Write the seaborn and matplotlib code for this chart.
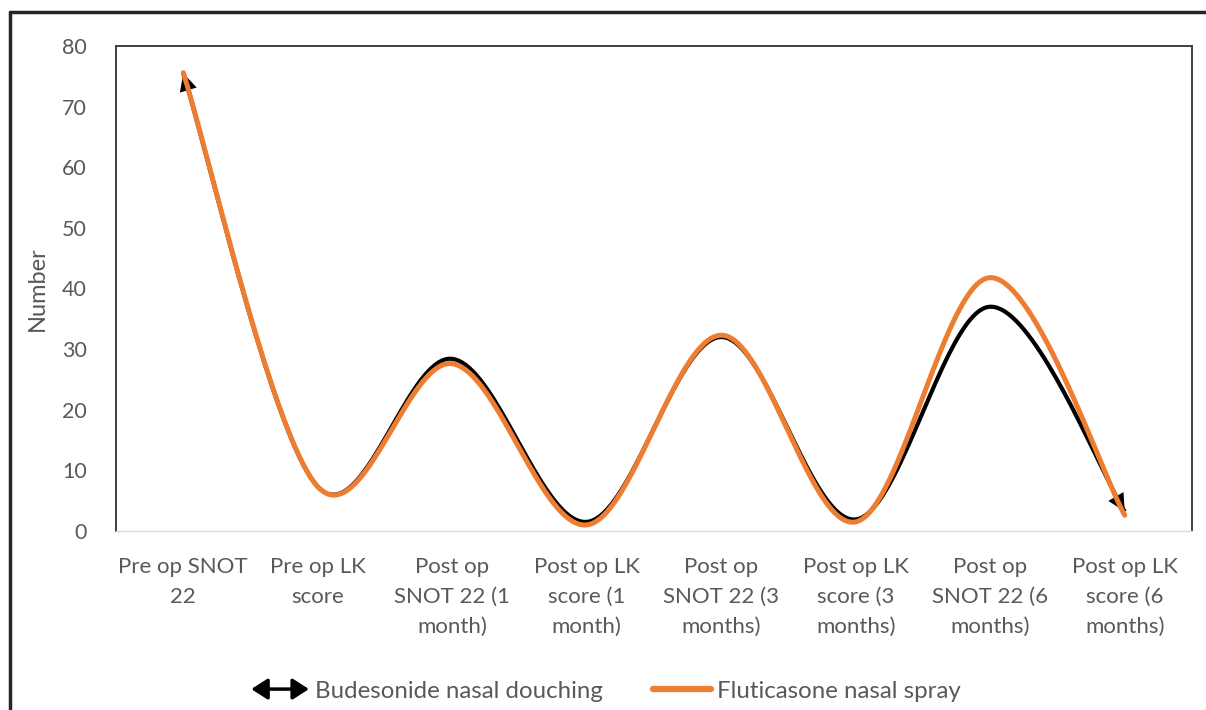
import numpy as np
import pandas as pd
import matplotlib
matplotlib.use("Agg")
import matplotlib.pyplot as plt
from matplotlib.lines import Line2D
from matplotlib.patches import FancyArrowPatch
from matplotlib.legend_handler import HandlerBase
import seaborn as sns

# ---- data -------------------------------------------------------------
categories = [
    "Pre op SNOT\n22",
    "Pre op LK\nscore",
    "Post op\nSNOT 22 (1\nmonth)",
    "Post op LK\nscore (1\nmonth)",
    "Post op\nSNOT 22 (3\nmonths)",
    "Post op LK\nscore (3\nmonths)",
    "Post op\nSNOT 22 (6\nmonths)",
    "Post op LK\nscore (6\nmonths)",
]
budesonide = [75.5, 7.3, 28.4, 1.5, 32.0, 1.9, 37.0, 3.2]
fluticasone = [75.6, 7.3, 27.6, 1.0, 32.3, 1.5, 41.8, 2.6]
series_names = ["Budesonide nasal douching", "Fluticasone nasal spray"]
yticks = [0, 10, 20, 30, 40, 50, 60, 70, 80]

TEXT = "#595959"
ORANGE = "#ED7D31"


def smooth_curve(values, steps=40):
    """Bezier smoothing of a category series (spreadsheet-style smoothed line)."""
    x = np.arange(len(values), dtype=float)
    y = np.asarray(values, dtype=float)
    pts = np.column_stack([x, y])
    n = len(pts)
    out = []
    t = np.linspace(0, 1, steps)[:, None]
    for i in range(n - 1):
        p0 = pts[i]
        p3 = pts[i + 1]
        prev = pts[i - 1] if i > 0 else pts[i]
        nxt = pts[i + 2] if i + 2 < n else pts[i + 1]
        c1 = p0 + (p3 - prev) / 6.0
        c2 = p3 - (nxt - p0) / 6.0
        seg = ((1 - t) ** 3) * p0 + 3 * ((1 - t) ** 2) * t * c1 \
            + 3 * (1 - t) * t ** 2 * c2 + t ** 3 * p3
        out.append(seg if i == 0 else seg[1:])
    seg = np.vstack(out)
    return seg[:, 0], seg[:, 1]


frames = []
for name, vals in zip(series_names, [budesonide, fluticasone]):
    sx, sy = smooth_curve(vals)
    frames.append(pd.DataFrame({"x": sx, "y": sy, "series": name,
                                "order": np.arange(len(sx))}))
curves = pd.concat(frames, ignore_index=True)

# ---- figure -----------------------------------------------------------
sns.set_style("white")
plt.rcParams["font.family"] = ["Lato", "DejaVu Sans"]

W, H = 1206, 710
fig = plt.figure(figsize=(W / 100, H / 100), dpi=100)
ax = fig.add_axes([116 / W, 1 - 531 / H, (1192 - 116) / W, (531 - 46) / H])

bud = curves[curves["series"] == series_names[0]]
flu = curves[curves["series"] == series_names[1]]

sns.lineplot(data=bud, x="x", y="y", sort=False, color="black", lw=3.0,
             ax=ax, legend=False, solid_capstyle="butt", zorder=3)

# arrow heads on both ends of the black series
bx, by = bud["x"].to_numpy(), bud["y"].to_numpy()
for tip, tail in [((bx[0], by[0]), (bx[3], by[3])),
                  ((bx[-1], by[-1]), (bx[-4], by[-4]))]:
    ax.annotate("", xy=tip, xytext=tail,
                arrowprops=dict(arrowstyle="-|>,head_length=0.9,head_width=0.45",
                                color="black", lw=0, shrinkA=0, shrinkB=0,
                                mutation_scale=14),
                zorder=3)

sns.lineplot(data=flu, x="x", y="y", sort=False, color=ORANGE, lw=3.6,
             ax=ax, legend=False, solid_capstyle="round", zorder=4)

ax.set_xlim(-0.5, len(categories) - 0.5)
ax.set_ylim(0, 80)
ax.set_yticks(yticks)
ax.set_xticks(range(len(categories)))
ax.set_xticklabels(categories, linespacing=1.62)
ax.tick_params(axis="both", length=0, colors=TEXT)
ax.tick_params(axis="x", pad=19, labelsize=16)
ax.tick_params(axis="y", pad=21, labelsize=15.5)
ax.set_xlabel("")
ax.set_ylabel("Number", color=TEXT, fontsize=17, labelpad=10)

for side in ["left", "top", "right"]:
    ax.spines[side].set_visible(True)
    ax.spines[side].set_color("#404040")
    ax.spines[side].set_linewidth(1.4)
ax.spines["bottom"].set_color("#D9D9D9")
ax.spines["bottom"].set_linewidth(1.0)

# outer frame lines (top and left)
fig.add_artist(Line2D([10 / W, 1.0], [1 - 12 / H, 1 - 12 / H],
                      transform=fig.transFigure, color="#262626", lw=2.5))
fig.add_artist(Line2D([10 / W, 10 / W], [1 - 12 / H, 0.0],
                      transform=fig.transFigure, color="#262626", lw=2.5))


class DoubleArrowHandler(HandlerBase):
    def create_artists(self, legend, orig_handle, xdescent, ydescent,
                       width, height, fontsize, trans):
        y = height / 2 - ydescent
        arr = FancyArrowPatch((-xdescent, y), (-xdescent + width, y),
                              arrowstyle="<|-|>,head_length=0.7,head_width=0.45",
                              mutation_scale=14, color="black", lw=2.5,
                              shrinkA=0, shrinkB=0, transform=trans)
        return [arr]


arrow_handle = Line2D([], [], color="black")
orange_handle = Line2D([], [], color=ORANGE, lw=4.5)
leg = fig.legend([arrow_handle, orange_handle], series_names,
                 handler_map={arrow_handle: DoubleArrowHandler()},
                 loc="center", bbox_to_anchor=(606 / W, 1 - 691 / H),
                 ncol=2, frameon=False, fontsize=17.3, handlelength=2.4,
                 handletextpad=0.25, columnspacing=2.1)
for t in leg.get_texts():
    t.set_color(TEXT)

fig.savefig("out.png", dpi=100, facecolor="white")
